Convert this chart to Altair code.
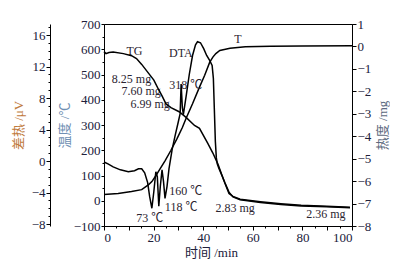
import altair as alt
import pandas as pd

# ---- Temperature curve T (min, °C) ----
temp_time = [0, 5.7, 11.1, 15.2, 18.0, 19.3, 20.9, 22.1, 24.6, 27.0, 29.5, 31.6, 33.2, 35.7, 38.5, 40.6, 42.6, 43.9, 45.1, 46.7, 50.8, 57.0, 67.2, 80.0, 100.0]
temp_vals = [25, 29, 37, 44, 64, 76, 99, 118, 158, 200, 247, 290, 329, 384, 450, 497, 548, 569, 583, 595, 604, 610, 612, 613, 614]

# ---- TG curve (min, mg) ----
tg_time = [0, 0.8, 2.0, 3.7, 7.8, 11.1, 13.1, 15.2, 18.0, 20.1, 22.1, 23.4, 25.0, 27.0, 30.3, 33.2, 36.5, 38.5, 41.8, 43.9, 45.9, 47.5, 48.8, 50.4, 52.0, 54.9, 63.1, 71.3, 79.5, 89.8, 99.2]
tg_vals = [-0.23, -0.32, -0.27, -0.25, -0.32, -0.41, -0.54, -0.80, -1.20, -1.50, -1.94, -2.20, -2.56, -2.73, -2.91, -3.17, -3.52, -3.65, -4.31, -4.75, -5.23, -5.72, -6.11, -6.55, -6.68, -6.81, -6.92, -7.01, -7.08, -7.12, -7.17]

# ---- DTA curve (min, μV) ----
dta_time = [0, 1.6, 3.7, 6.6, 9.8, 12.3, 13.9, 15.2, 16.4, 17.6, 18.4, 19.3, 20.1, 20.9, 21.5, 22.1, 22.7, 23.4, 24.0, 24.6, 25.4, 26.2, 27.5, 28.7, 29.9, 30.7, 31.1, 31.6, 32.0, 33.2, 34.4, 35.7, 36.9, 37.7, 38.9, 40.2, 41.4, 42.6, 43.6, 44.1, 44.5, 44.9, 45.3, 45.7, 46.3, 47.5, 48.8, 50.4, 52.0, 54.9, 63.1, 71.3, 79.5, 89.8, 99.2]
dta_vals = [-0.12, -0.37, -0.74, -1.12, -1.37, -1.24, -0.99, -0.99, -1.49, -2.74, -4.50, -6.00, -3.87, -1.37, -1.99, -5.75, -3.24, -1.12, -2.62, -4.75, -3.24, -0.99, 1.51, 3.26, 4.89, 6.01, 9.77, 6.76, 5.89, 8.39, 11.02, 13.40, 14.77, 15.15, 15.02, 14.27, 13.40, 12.77, 12.15, 10.50, 6.50, 2.50, 0.40, -0.40, -0.90, -1.80, -2.80, -3.95, -4.55, -4.92, -5.28, -5.52, -5.70, -5.82, -5.93]

# ---- Annotations (min, °C) ----
ann_text = ["TG", "DTA", "T", "8.25 mg", "7.60 mg", "6.99 mg", "318 ℃", "73 ℃", "118 ℃", "160 ℃", "2.83 mg", "2.36 mg"]
ann_time = [12.3, 31.0, 54.0, 11.1, 15.0, 18.6, 33.0, 18.4, 31.1, 33.0, 52.9, 89.5]
ann_temp = [595, 584, 639, 484, 434, 382, 460, -68, -26, 40, -28, -52]

temp_df = pd.DataFrame({"t": temp_time, "v": temp_vals})
tg_df = pd.DataFrame({"t": tg_time, "v": tg_vals})
dta_df = pd.DataFrame({"t": dta_time, "v": dta_vals})
ann_df = pd.DataFrame({"t": ann_time, "v": ann_temp, "label": ann_text})

SERIF = "Liberation Serif, Noto Sans CJK SC"
LABEL_C = "#20203a"

x_enc = alt.X(
    "t:Q",
    scale=alt.Scale(domain=[0, 100], nice=False),
    axis=alt.Axis(
        title="时间 /min",
        values=list(range(0, 101, 5)),
        labelExpr="datum.value % 10 === 0 ? datum.label : ''",
        tickSize={"condition": {"test": "datum.value % 10 === 0", "value": 4}, "value": 2},
        grid=False,
        domainColor="black",
        tickColor="black",
        labelColor=LABEL_C,
        titleColor=LABEL_C,
        labelFont=SERIF,
        titleFont=SERIF,
        labelFontSize=13,
        titleFontSize=13,
        titleFontWeight="normal",
        labelPadding=1,
        titlePadding=2,
        titleX=107,
    ),
)

temp_axis = alt.Axis(
    orient="left",
    title="温度 /℃",
    values=list(range(-100, 701, 50)),
    format="d",
    labelExpr="datum.value % 100 === 0 ? datum.label : ''",
    tickSize={"condition": {"test": "datum.value % 100 === 0", "value": 3}, "value": 2},
    grid=False,
    domainColor="black",
    tickColor="black",
    labelColor=LABEL_C,
    titleColor="#6f8fb3",
    labelFont=SERIF,
    titleFont=SERIF,
    labelFontSize=13,
    titleFontSize=13,
    titleFontWeight="normal",
    labelPadding=1,
    titlePadding=2,
)
temp_y = alt.Y("v:Q", scale=alt.Scale(domain=[-100, 700], nice=False, zero=False), axis=temp_axis)

temp_line = alt.Chart(temp_df).mark_line(color="black", strokeWidth=1.5).encode(
    x=x_enc, y=temp_y, order="t:Q"
)
ann_layer = alt.Chart(ann_df).mark_text(
    font=SERIF, fontSize=12, color="#2b2430", align="center", baseline="middle"
).encode(x=x_enc, y=temp_y, text="label:N")

temp_group = alt.layer(temp_line, ann_layer)

tg_axis = alt.Axis(
    orient="right",
    title="热度 /mg",
    titleAngle=270,
    titleBaseline="top",
    values=[v / 2 for v in range(-16, 3)],
    format="d",
    labelExpr="datum.value % 1 === 0 ? datum.label : ''",
    tickSize={"condition": {"test": "datum.value % 1 === 0", "value": 4}, "value": 2},
    grid=False,
    domainColor="black",
    tickColor="black",
    labelColor=LABEL_C,
    titleColor="#5d6a80",
    labelFont=SERIF,
    titleFont=SERIF,
    labelFontSize=13,
    titleFontSize=13,
    titleFontWeight="normal",
    labelPadding=1,
    titlePadding=6,
)
tg_line = alt.Chart(tg_df).mark_line(color="black", strokeWidth=1.5).encode(
    x=x_enc,
    y=alt.Y("v:Q", scale=alt.Scale(domain=[-8, 1], nice=False, zero=False), axis=tg_axis),
    order="t:Q",
)

dta_axis = alt.Axis(
    orient="left",
    offset=54,
    title="差热 /μV",
    values=list(range(-8, 18)),
    format="d",
    labelExpr="datum.value % 4 === 0 ? datum.label : ''",
    tickSize={"condition": {"test": "datum.value % 4 === 0", "value": 4}, "value": 2},
    grid=False,
    domainColor="black",
    tickColor="black",
    labelColor=LABEL_C,
    titleColor="#c07a3c",
    labelFont=SERIF,
    titleFont=SERIF,
    labelFontSize=13,
    titleFontSize=13,
    titleFontWeight="normal",
    labelPadding=1,
    titlePadding=6,
)
dta_line = alt.Chart(dta_df).mark_line(color="black", strokeWidth=1.5).encode(
    x=x_enc,
    y=alt.Y("v:Q", scale=alt.Scale(domain=[-8.25, 17.4], nice=False, zero=False), axis=dta_axis),
    order="t:Q",
)

chart = (
    alt.layer(temp_group, tg_line, dta_line)
    .resolve_scale(y="independent")
    .properties(
        width=382,
        height=251,
        autosize=alt.AutoSizeParams(type="fit", contains="padding"),
        padding={"left": 4, "top": 10, "right": 0, "bottom": 0},
        background="white",
    )
    .configure_view(stroke="black", strokeWidth=1)
)

chart.save("out.html", embed_options={"renderer": "svg", "actions": False})
